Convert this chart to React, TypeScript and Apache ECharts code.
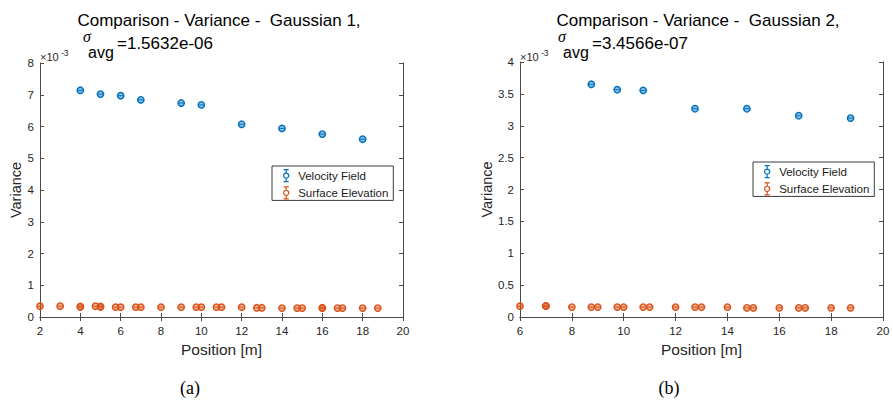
import React, { useEffect, useRef } from "react";
import * as echarts from "echarts";

// ---------- data (variance values in units of 1e-3) ----------
const velX1 = [4, 5, 6, 7, 9, 10, 12, 14, 16, 18];
const velY1 = [7.14, 7.02, 6.97, 6.84, 6.74, 6.68, 6.07, 5.94, 5.76, 5.6];
const surfX1 = [2, 3, 4, 4, 4.75, 5, 5, 5.75, 6, 6.75, 7, 8, 9, 9.75, 10, 10.75, 11, 12, 12.75, 13, 14, 14.75, 15, 16, 16, 16.75, 17, 18, 18.75];
const surfY1 = [0.34, 0.34, 0.32, 0.33, 0.34, 0.32, 0.33, 0.31, 0.31, 0.31, 0.31, 0.31, 0.31, 0.31, 0.31, 0.31, 0.31, 0.31, 0.29, 0.29, 0.28, 0.28, 0.28, 0.28, 0.29, 0.28, 0.28, 0.28, 0.28];

const velX2 = [8.75, 9.75, 10.75, 12.75, 14.75, 16.75, 18.75];
const velY2 = [3.65, 3.565, 3.555, 3.267, 3.267, 3.157, 3.12];
const surfX2 = [6, 7, 7, 8, 8.75, 9, 9.75, 10, 10.75, 11, 12, 12.75, 13, 14, 14.75, 15, 16, 16.75, 17, 18, 18.75];
const surfY2 = [0.17, 0.17, 0.175, 0.155, 0.155, 0.155, 0.155, 0.155, 0.155, 0.155, 0.155, 0.155, 0.155, 0.155, 0.144, 0.144, 0.144, 0.144, 0.144, 0.144, 0.144];

const titles = ["Comparison - Variance -  Gaussian 1,", "Comparison - Variance -  Gaussian 2,"];
const sigmaValues = ["=1.5632e-06", "=3.4566e-07"];
const subLabels = ["(a)", "(b)"];
const seriesNames = ["Velocity Field", "Surface Elevation"];
const xRange1 = [2, 20];
const yRange1 = [0, 8];
const xRange2 = [6, 20];
const yRange2 = [0, 4];

const BLUE = "#0072BD";
const ORANGE = "#D95319";
const AXIS = "#4a4a4a";
const FONT = "'Liberation Sans', Arial, Helvetica, sans-serif";

const ERR_ICON =
  "path://M2,0 L8,0 M5,0 L5,4 M2,14 L8,14 M5,10 L5,14 M5,4 A3,3 0 1,1 5,10 A3,3 0 1,1 5,4 Z";

function pts(xs: number[], ys: number[]) {
  return xs.map((x, i) => [x, ys[i]]);
}

function markerSeries(name: string, color: string, fill: string, data: number[][], ai: number) {
  return {
    type: "custom",
    name,
    xAxisIndex: ai,
    yAxisIndex: ai,
    data,
    renderItem: (params: any, api: any) => {
      const p = api.coord([api.value(0), api.value(1)]);
      return {
        type: "group",
        children: [
          {
            type: "circle",
            shape: { cx: p[0], cy: p[1], r: 3.2 },
            style: { fill, stroke: color, lineWidth: 1.4 },
          },
          {
            type: "line",
            shape: { x1: p[0] - 3, y1: p[1], x2: p[0] + 3, y2: p[1] },
            style: { stroke: color, lineWidth: 1 },
          },
        ],
      };
    },
  };
}

function axesFor(grid: number, xr: number[], yr: number[], yInt: number) {
  const common = {
    gridIndex: grid,
    axisLine: { show: true, lineStyle: { color: AXIS, width: 1 } },
    axisTick: { show: true, inside: true, length: 4, lineStyle: { color: AXIS } },
    splitLine: { show: false },
  };
  const xs = [
    {
      ...common,
      type: "value",
      position: "bottom",
      min: xr[0],
      max: xr[1],
      interval: 2,
      name: "Position [m]",
      nameLocation: "middle",
      nameGap: 24,
      nameTextStyle: { fontFamily: FONT, fontSize: 15.5, color: "#262626" },
      axisLabel: { fontFamily: FONT, fontSize: 11.5, color: "#262626", margin: 8 },
    },
    {
      ...common,
      type: "value",
      position: "top",
      min: xr[0],
      max: xr[1],
      interval: 2,
      axisLabel: { show: false },
    },
  ];
  const ys = [
    {
      ...common,
      type: "value",
      position: "left",
      min: yr[0],
      max: yr[1],
      interval: yInt,
      name: "Variance",
      nameLocation: "middle",
      nameGap: grid === 0 ? 16 : 26,
      nameTextStyle: { fontFamily: FONT, fontSize: 14.5, color: "#262626" },
      axisLabel: { fontFamily: FONT, fontSize: 11.5, color: "#262626", margin: 6 },
    },
    {
      ...common,
      type: "value",
      position: "right",
      min: yr[0],
      max: yr[1],
      interval: yInt,
      axisLabel: { show: false },
    },
  ];
  return { xs, ys };
}

function legendFor(left: number, top: number) {
  return {
    orient: "vertical",
    left,
    top,
    padding: [3, 5, 1, 11],
    itemWidth: 10,
    itemHeight: 12,
    itemGap: 4,
    borderColor: "#3a3a3a",
    borderWidth: 1,
    backgroundColor: "#fff",
    selectedMode: false,
    textStyle: { fontFamily: FONT, fontSize: 11.5, color: "#1a1a1a", padding: [0, 0, 0, 2] },
    data: [
      { name: seriesNames[0], icon: ERR_ICON, itemStyle: { color: "transparent", borderColor: BLUE, borderWidth: 1.2 } },
      { name: seriesNames[1], icon: ERR_ICON, itemStyle: { color: "transparent", borderColor: ORANGE, borderWidth: 1.2 } },
    ],
  };
}

function titleGraphics(cx: number, sx: number, i: number) {
  return [
    {
      type: "text",
      x: cx,
      y: 20,
      style: { text: titles[i], font: `17px ${FONT}`, fill: "#000", align: "center", verticalAlign: "middle" },
    },
    {
      type: "text",
      x: sx,
      y: 36.5,
      style: { text: "σ", font: `italic 16px 'Liberation Serif', serif`, fill: "#000", align: "left", verticalAlign: "middle" },
    },
    {
      type: "text",
      x: sx + 5,
      y: 52.5,
      style: { text: "avg", font: `16px ${FONT}`, fill: "#000", align: "left", verticalAlign: "middle" },
    },
    {
      type: "text",
      x: sx + 34,
      y: 43,
      style: { text: sigmaValues[i], font: `17px ${FONT}`, fill: "#000", align: "left", verticalAlign: "middle" },
    },
  ];
}

function expGraphics(x: number) {
  return [
    {
      type: "text",
      x,
      y: 57,
      style: { text: "×10", font: `11px ${FONT}`, fill: "#262626", align: "left", verticalAlign: "middle" },
    },
    {
      type: "text",
      x: x + 21,
      y: 53,
      style: { text: "-3", font: `8.5px ${FONT}`, fill: "#262626", align: "left", verticalAlign: "middle" },
    },
  ];
}

export default function App() {
  const ref = useRef<HTMLDivElement>(null);
  useEffect(() => {
    if (!ref.current) return;
    const chart = echarts.init(ref.current, undefined, { renderer: "svg" });
    const a1 = axesFor(0, xRange1, yRange1, 1);
    const a2 = axesFor(1, xRange2, yRange2, 0.5);
    const option: any = {
      animation: false,
      backgroundColor: "#fff",
      grid: [
        { left: 40, top: 63, width: 363, height: 254 },
        { left: 520, top: 62, width: 363, height: 255 },
      ],
      xAxis: [...a1.xs, ...a2.xs],
      yAxis: [...a1.ys, ...a2.ys],
      legend: [legendFor(272, 166), legendFor(753, 162)],
      series: [
        markerSeries(seriesNames[1], ORANGE, "rgba(217,83,25,0.45)", pts(surfX1, surfY1), 0),
        markerSeries(seriesNames[0], BLUE, "rgba(0,114,189,0.45)", pts(velX1, velY1), 0),
        markerSeries(seriesNames[1], ORANGE, "rgba(217,83,25,0.45)", pts(surfX2, surfY2), 2),
        markerSeries(seriesNames[0], BLUE, "rgba(0,114,189,0.45)", pts(velX2, velY2), 2),
      ],
      graphic: [
        ...titleGraphics(219, 83, 0),
        ...titleGraphics(698, 558, 1),
        ...expGraphics(40),
        ...expGraphics(520),
        {
          type: "text",
          x: 190,
          y: 388,
          style: { text: subLabels[0], font: `18px 'Liberation Serif', serif`, fill: "#000", align: "center", verticalAlign: "middle" },
        },
        {
          type: "text",
          x: 669,
          y: 388,
          style: { text: subLabels[1], font: `18px 'Liberation Serif', serif`, fill: "#000", align: "center", verticalAlign: "middle" },
        },
      ],
    };
    chart.setOption(option);
    return () => chart.dispose();
  }, []);
  return (
    <div
      ref={ref}
      style={{ position: "absolute", left: 0, top: 0, width: 893, height: 400 }}
    />
  );
}
